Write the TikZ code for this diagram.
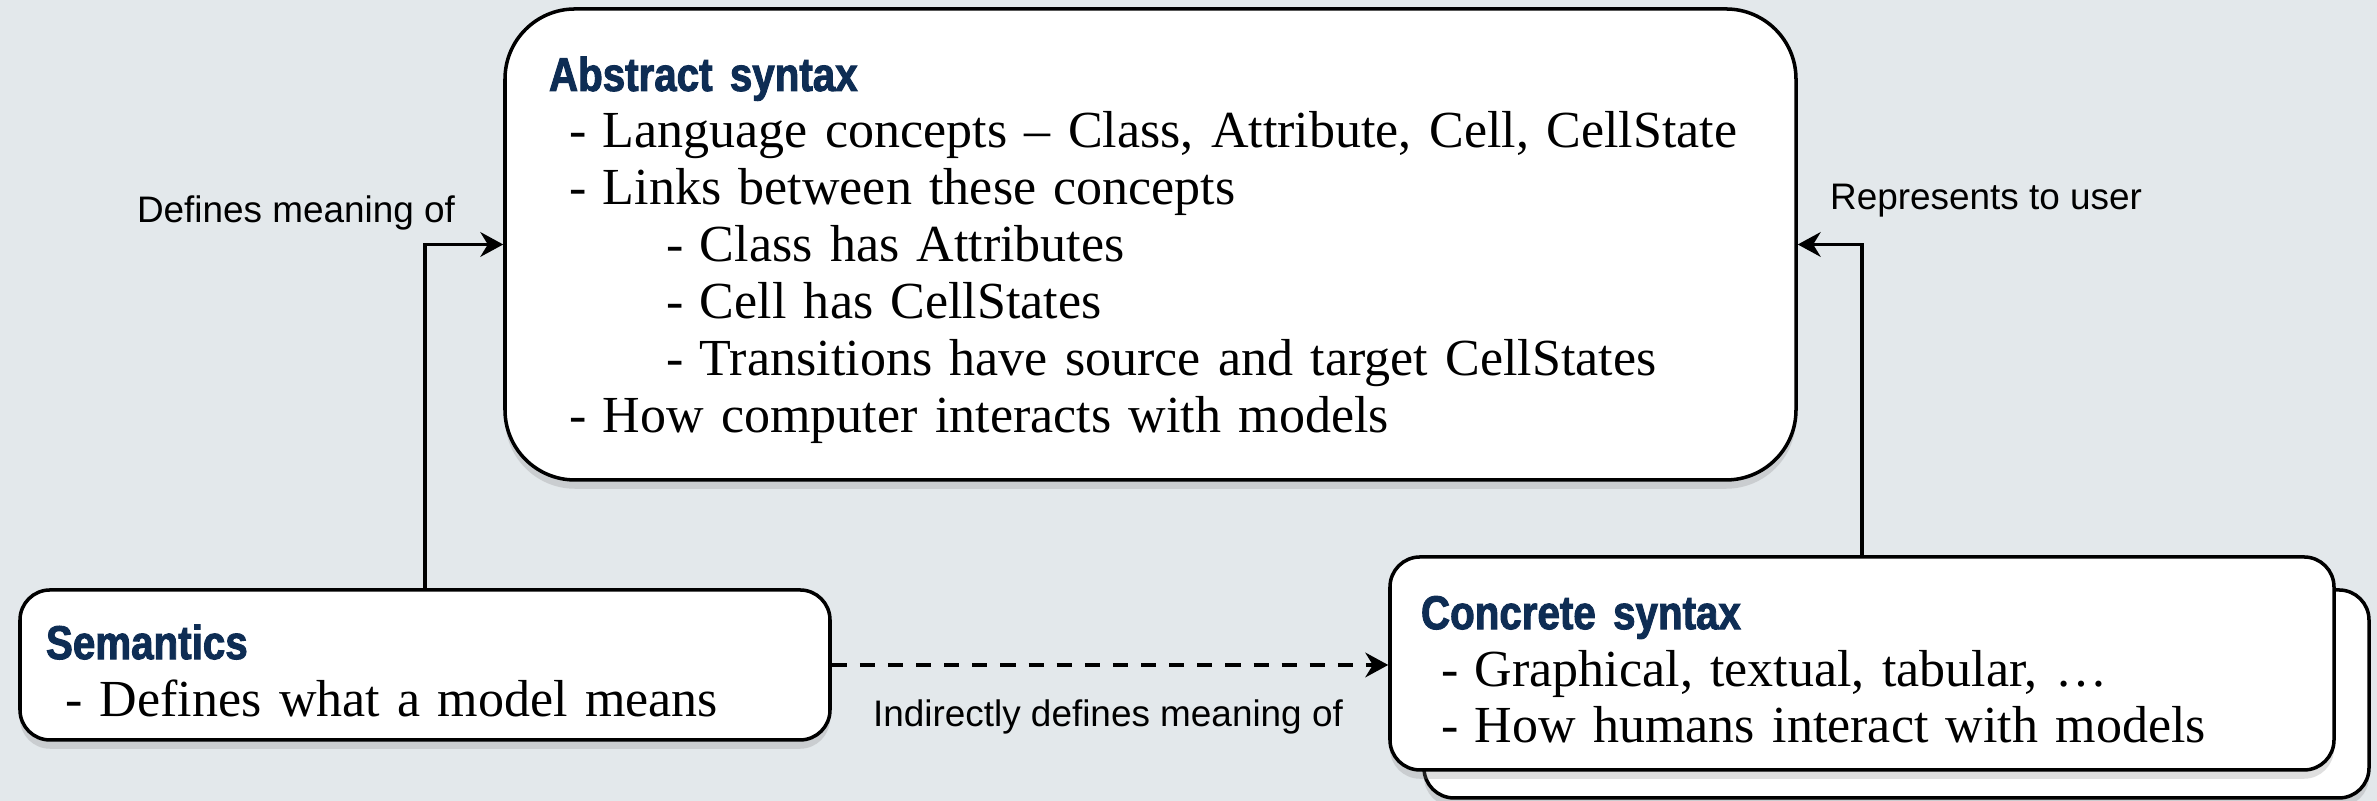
\documentclass[tikz,border=0pt]{standalone}
\usepackage{fontspec}
\setmainfont{Liberation Serif}
\setsansfont{Liberation Sans}
\newfontfamily\headfont[FakeStretch=0.85, FakeBold=2]{Liberation Sans}
\usetikzlibrary{arrows.meta,positioning,shadows}

\definecolor{bgcol}{RGB}{227,232,235}
\definecolor{headcol}{RGB}{14,45,84}

% list lines inside the boxes
\newcommand{\itm}[1]{\makebox[0.54cm][l]{\hspace{0.2cm}-}\mbox{#1}}
\newcommand{\subitm}[1]{\hspace*{0.97cm}\itm{#1}}
\newcommand{\boxhead}[1]{\rule{0pt}{13pt}{\headfont\bfseries\color{headcol}\fontsize{13.5}{16}\selectfont #1}}

\begin{document}
\begin{tikzpicture}[
  >={Stealth[length=6.5pt,width=7pt]},
  font=\sffamily\fontsize{10.5}{12.6}\selectfont,
  box/.style={draw, line width=1pt, fill=white, align=left,
              font=\rmfamily\fontsize{14.8}{16.2}\selectfont,
              drop shadow={shadow xshift=0pt, shadow yshift=-2.5pt, opacity=0.25}},
  absbox/.style={box, rounded corners=0.7cm, text width=12.03cm,
                 inner xsep=0.44cm, minimum height=4.71cm},
  sembox/.style={box, rounded corners=0.3cm, text width=7.58cm,
                 inner xsep=0.26cm, minimum height=1.5cm},
  conbox/.style={box, rounded corners=0.3cm, text width=8.82cm,
                 inner xsep=0.31cm, minimum height=2.13cm},
  lbl/.style={anchor=base},
  arr/.style={->, line width=1.1pt},
]
  \fill[bgcol] (0,0) rectangle (23.77,8.01);
  \useasboundingbox (0,0) rectangle (23.77,8.01);

  \node[absbox] (abs) at (11.505,5.565) {\boxhead{Abstract syntax}\\
    \itm{Language concepts -- Class, Attribute, Cell, CellState}\\
    \itm{Links between these concepts}\\
    \subitm{Class has Attributes}\\
    \subitm{Cell has CellStates}\\
    \subitm{Transitions have source and target CellStates}\\
    \itm{How computer interacts with models}};
  \node[sembox] (sem) at (4.25,1.36) {\boxhead{Semantics}\\
    \itm{Defines what a model means}};
  \node[conbox, minimum width=9.45cm, minimum height=2.08cm] (conback) at (18.965,1.07) {};
  \node[conbox] (con) at (18.62,1.375) {\boxhead{Concrete syntax}\\
    \itm{Graphical, textual, tabular, \dots}\\
    \itm{How humans interact with models}};

  \draw[arr] (sem.north) |- (abs.west);
  \draw[arr] (con.north) |- (abs.east);
  \draw[arr, dash pattern=on 4.3pt off 3.7pt] (sem.east) -- (sem.east -| con.west);

  \node[lbl] (defl) at (2.96,5.78) {Defines meaning of};
  \node[lbl] (repl) at (19.86,5.91) {Represents to user};
  \node[lbl] (indl) at (11.08,0.74) {Indirectly defines meaning of};
\end{tikzpicture}
\end{document}
